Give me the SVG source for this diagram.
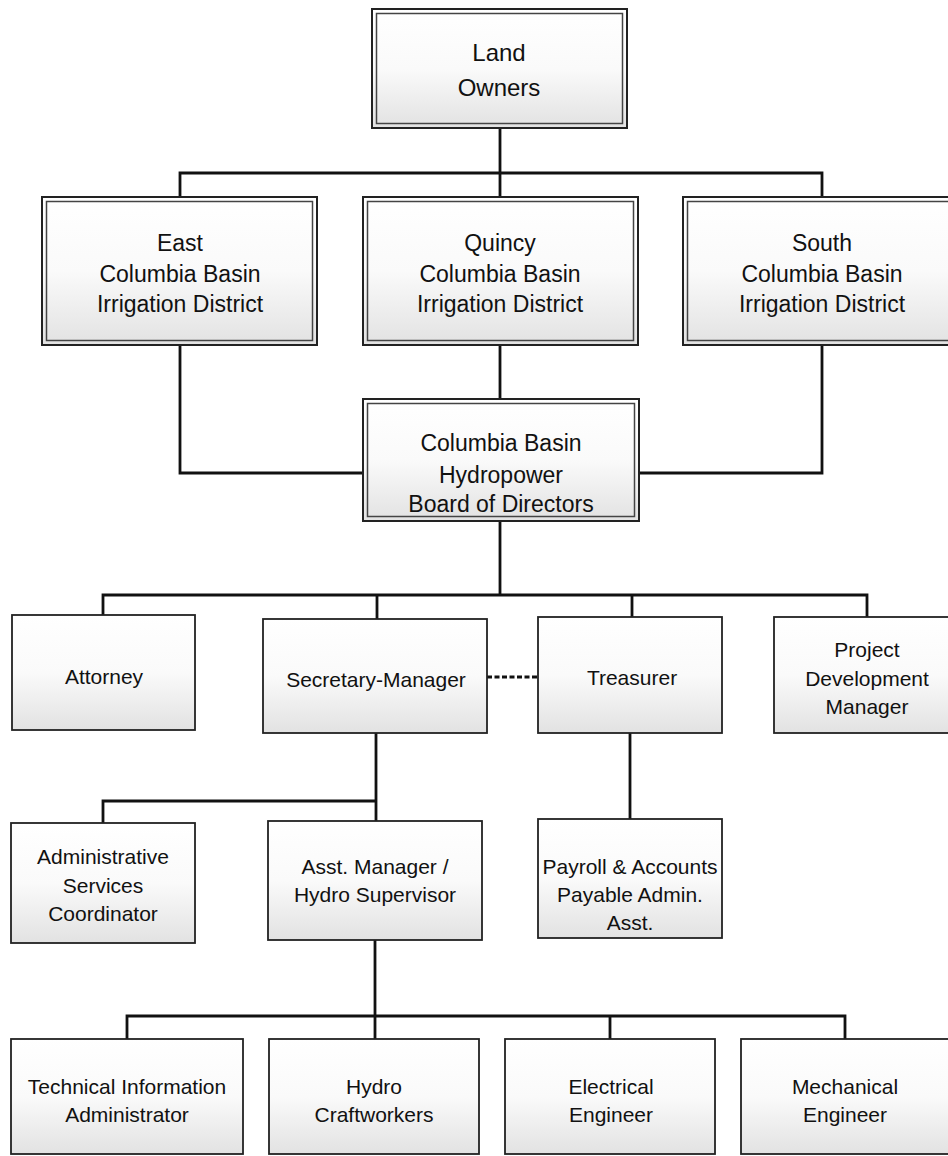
<svg xmlns="http://www.w3.org/2000/svg" width="948" height="1156" viewBox="0 0 948 1156">
<defs>
<linearGradient id="shade" x1="0" y1="0" x2="0" y2="1">
<stop offset="0" stop-color="#ffffff"/>
<stop offset="0.5" stop-color="#fafafa"/>
<stop offset="1" stop-color="#e2e2e2"/>
</linearGradient>
<style>
.outer{fill:url(#shade);stroke:#222;stroke-width:2}
.inner{fill:none;stroke:#444;stroke-width:1.5}
.box{fill:url(#shade);stroke:#222;stroke-width:1.8}
.conn{fill:none;stroke:#111;stroke-width:2.8}
.dash{stroke-dasharray:5 2.5}
text{font-family:"Liberation Sans",Arial,sans-serif;fill:#111;text-anchor:middle}
.t1{font-size:24px}
.t2{font-size:23px}
.t3{font-size:21px}
</style>
</defs>
<rect width="948" height="1156" fill="#fff"/>
<g id="connectors">
<path class="conn" d="M500 128 V197"/>
<path class="conn" d="M180 197 V173 H822 V197"/>
<path class="conn" d="M180 345 V473 H363"/>
<path class="conn" d="M822 345 V473 H639"/>
<path class="conn" d="M500 345 V399"/>
<path class="conn" d="M500 521 V595"/>
<path class="conn" d="M103 615 V595 H867 V617"/>
<path class="conn" d="M377 595 V619"/>
<path class="conn" d="M632 595 V617"/>
<path class="conn dash" d="M487 677 H538"/>
<path class="conn" d="M376 733 V821"/>
<path class="conn" d="M103 823 V801 H376"/>
<path class="conn" d="M630 733 V819"/>
<path class="conn" d="M375 940 V1039"/>
<path class="conn" d="M127 1039 V1016 H845 V1039"/>
<path class="conn" d="M610 1016 V1039"/>
</g>
<g id="land-owners">
<rect class="outer" x="372" y="9" width="255" height="119"/>
<rect class="inner" x="376.5" y="13.5" width="246" height="110"/>
<text class="t1" x="499" y="61">Land</text>
<text class="t1" x="499" y="96">Owners</text>
</g>
<g id="east">
<rect class="outer" x="42" y="197" width="275" height="148"/>
<rect class="inner" x="46.5" y="201.5" width="266" height="139"/>
<text class="t2" x="180" y="251">East</text>
<text class="t2" x="180" y="282">Columbia Basin</text>
<text class="t2" x="180" y="312">Irrigation District</text>
</g>
<g id="quincy">
<rect class="outer" x="363" y="197" width="275" height="148"/>
<rect class="inner" x="367.5" y="201.5" width="266" height="139"/>
<text class="t2" x="500" y="251">Quincy</text>
<text class="t2" x="500" y="282">Columbia Basin</text>
<text class="t2" x="500" y="312">Irrigation District</text>
</g>
<g id="south">
<rect class="outer" x="683" y="197" width="277" height="148"/>
<rect class="inner" x="687.5" y="201.5" width="268" height="139"/>
<text class="t2" x="822" y="251">South</text>
<text class="t2" x="822" y="282">Columbia Basin</text>
<text class="t2" x="822" y="312">Irrigation District</text>
</g>
<g id="board">
<rect class="outer" x="363" y="399" width="276" height="122"/>
<rect class="inner" x="367.5" y="403.5" width="267" height="113"/>
<text class="t2" x="501" y="451">Columbia Basin</text>
<text class="t2" x="501" y="483">Hydropower</text>
<text class="t2" x="501" y="512">Board of Directors</text>
</g>
<g id="attorney">
<rect class="box" x="12" y="615" width="183" height="115"/>
<text class="t3" x="104" y="684">Attorney</text>
</g>
<g id="secretary-manager">
<rect class="box" x="263" y="619" width="224" height="114"/>
<text class="t3" x="376" y="687">Secretary-Manager</text>
</g>
<g id="treasurer">
<rect class="box" x="538" y="617" width="184" height="116"/>
<text class="t3" x="632" y="685">Treasurer</text>
</g>
<g id="project-development-manager">
<rect class="box" x="774" y="617" width="186" height="116"/>
<text class="t3" x="867" y="657">Project</text>
<text class="t3" x="867" y="686">Development</text>
<text class="t3" x="867" y="714">Manager</text>
</g>
<g id="admin-services">
<rect class="box" x="11" y="823" width="184" height="120"/>
<text class="t3" x="103" y="864">Administrative</text>
<text class="t3" x="103" y="893">Services</text>
<text class="t3" x="103" y="921">Coordinator</text>
</g>
<g id="asst-manager">
<rect class="box" x="268" y="821" width="214" height="119"/>
<text class="t3" x="375" y="874">Asst. Manager /</text>
<text class="t3" x="375" y="902">Hydro Supervisor</text>
</g>
<g id="payroll">
<rect class="box" x="538" y="819" width="184" height="119"/>
<text class="t3" x="630" y="874">Payroll &amp; Accounts</text>
<text class="t3" x="630" y="902">Payable Admin.</text>
<text class="t3" x="630" y="930">Asst.</text>
</g>
<g id="technical-information-administrator">
<rect class="box" x="11" y="1039" width="232" height="115"/>
<text class="t3" x="127" y="1094">Technical Information</text>
<text class="t3" x="127" y="1122">Administrator</text>
</g>
<g id="hydro-craftworkers">
<rect class="box" x="269" y="1039" width="210" height="115"/>
<text class="t3" x="374" y="1094">Hydro</text>
<text class="t3" x="374" y="1122">Craftworkers</text>
</g>
<g id="electrical-engineer">
<rect class="box" x="505" y="1039" width="210" height="115"/>
<text class="t3" x="611" y="1094">Electrical</text>
<text class="t3" x="611" y="1122">Engineer</text>
</g>
<g id="mechanical-engineer">
<rect class="box" x="741" y="1039" width="219" height="115"/>
<text class="t3" x="845" y="1094">Mechanical</text>
<text class="t3" x="845" y="1122">Engineer</text>
</g>
</svg>
